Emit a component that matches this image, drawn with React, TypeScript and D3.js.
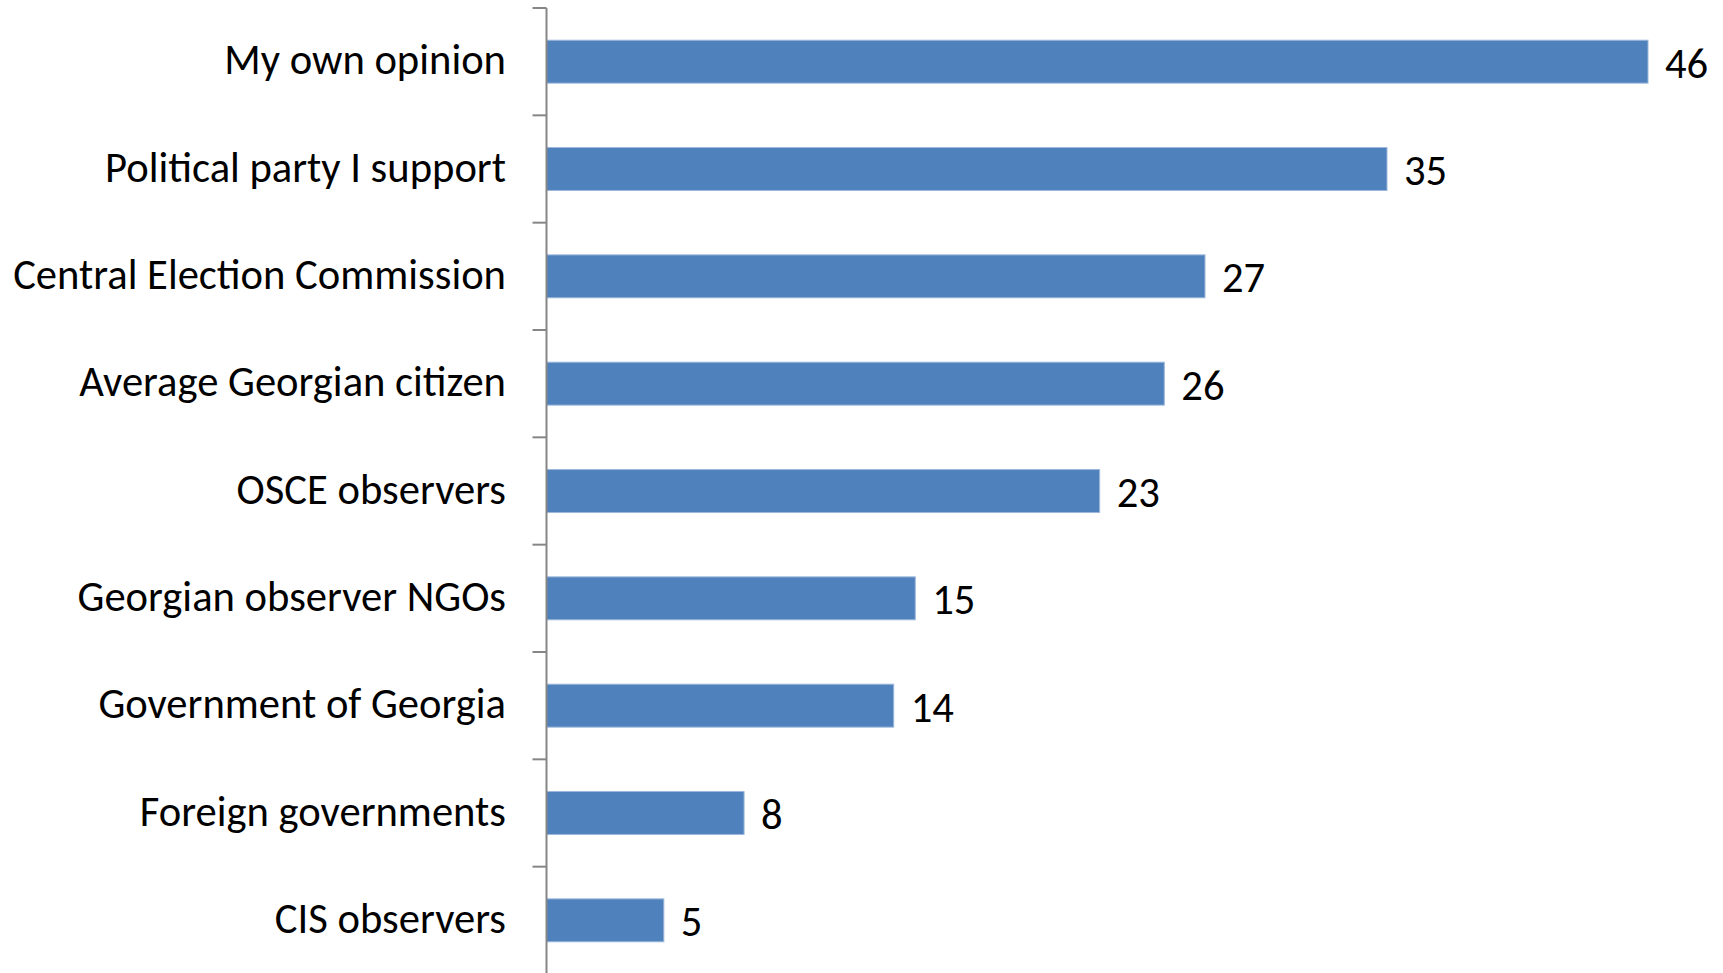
import React from "react";
import * as d3 from "d3";

const categories = [
  "My own opinion",
  "Political party I support",
  "Central Election Commission",
  "Average Georgian citizen",
  "OSCE observers",
  "Georgian observer NGOs",
  "Government of Georgia",
  "Foreign governments",
  "CIS observers",
];
// bar lengths
const values = [46, 35.1, 27.5, 25.8, 23.1, 15.4, 14.5, 8.25, 4.9];
// printed data labels
const labels = ["46", "35", "27", "26", "23", "15", "14", "8", "5"];

const W = 1723;
const H = 973;
const axisX = 546.5;
const top = 8;
const bottom = 974;
const FONT = "Carlito, Lato, 'Open Sans', sans-serif";

export default function App() {
  const x = d3.scaleLinear().domain([0, 46]).range([axisX, 1648]);
  const y = d3.scaleBand().domain(categories).range([top, bottom]).paddingInner(0.6).paddingOuter(0.3);
  const step = y.step();
  const tickYs = d3.range(categories.length + 1).map((i) => top + i * step);
  return (
    <svg width={W} height={H} style={{ position: "absolute", left: 0, top: 0, background: "#fff" }}>
      {categories.map((c, i) => {
        const yy = y(c)!;
        return (
          <g key={c}>
            <rect x={x(0)} y={yy} width={x(values[i]) - x(0)} height={y.bandwidth()} fill="#4F81BD" stroke="#9DB8DA" strokeWidth={1} />
            <text x={506} y={yy + y.bandwidth() / 2} dy="0.3em" textAnchor="end" fontFamily={FONT} fontSize={42.6} fill="#000">
              {c}
            </text>
            <text x={x(values[i]) + 17} y={yy + y.bandwidth() / 2 + 2} dy="0.33em" textAnchor="start" fontFamily={FONT} fontSize={42.6} fill="#000">
              {labels[i]}
            </text>
          </g>
        );
      })}
      <line x1={axisX} x2={axisX} y1={top} y2={bottom} stroke="#868686" strokeWidth={2} />
      {tickYs.map((t, i) => (
        <line key={i} x1={axisX - 14} x2={axisX} y1={t} y2={t} stroke="#868686" strokeWidth={2} />
      ))}
    </svg>
  );
}
